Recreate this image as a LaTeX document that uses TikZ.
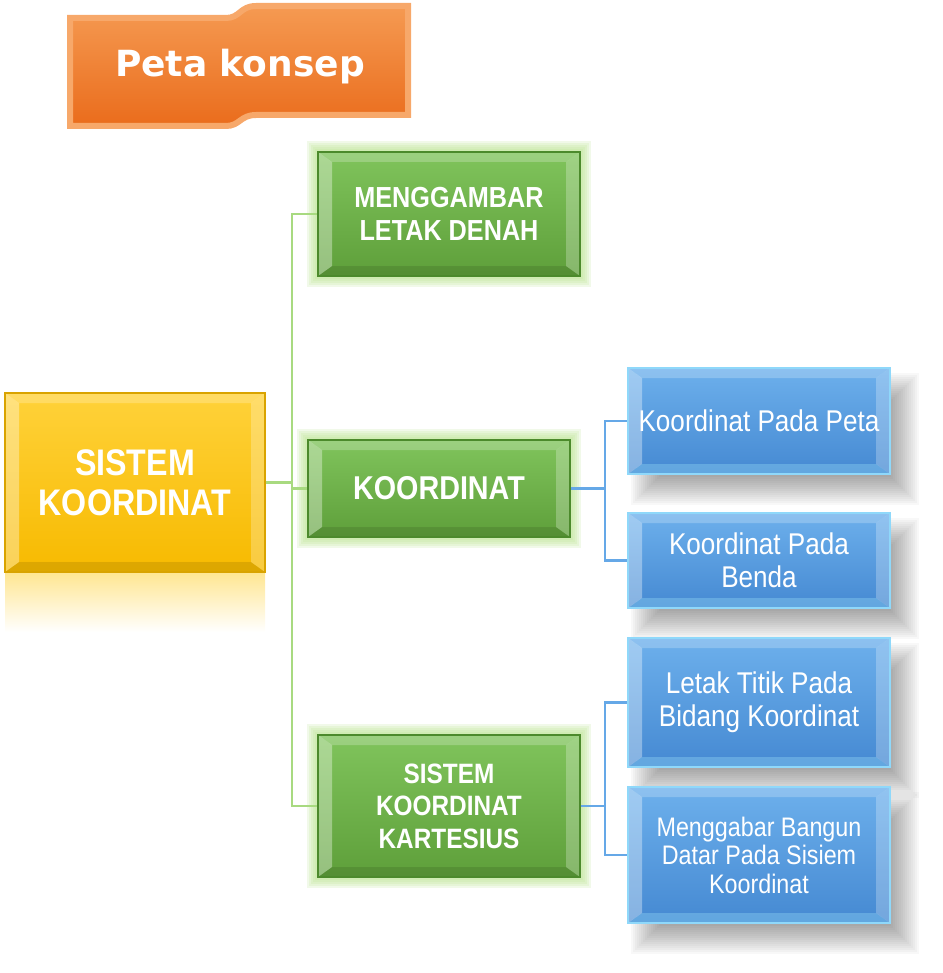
\documentclass[tikz,border=0pt]{standalone}
\usepackage{fontspec}
\setmainfont{Liberation Sans}[FakeStretch=0.87]
\newfontfamily\bannerfont{DejaVu Sans}
\usetikzlibrary{calc,backgrounds}

\definecolor{ytop}{HTML}{FFD23A}
\definecolor{ybot}{HTML}{F7BA00}
\definecolor{yline}{HTML}{D9A300}
\definecolor{gtop}{HTML}{80C45C}
\definecolor{gbot}{HTML}{5E9F3A}
\definecolor{gline}{HTML}{4C8A2C}
\definecolor{gglow}{HTML}{B9E38F}
\definecolor{btop}{HTML}{6DB0EC}
\definecolor{bbot}{HTML}{4589D2}
\definecolor{bedge}{HTML}{8FD8FA}
\definecolor{otop}{HTML}{F59A52}
\definecolor{obot}{HTML}{EA6C1C}
\definecolor{orim}{HTML}{F7A86A}

\begin{document}
\begin{tikzpicture}[x=0.5pt,y=-0.5pt,
    bevel/.style 2 args={path picture={
        \path (path picture bounding box.south west) coordinate (bvA)
              (path picture bounding box.north east) coordinate (bvB);
        \fill[white,opacity=.22] (bvA |- bvB) -- (bvB) -- ([shift={(-7pt,-5pt)}]bvB)
            -- ([shift={(7pt,-5pt)}]bvA |- bvB) -- cycle;
        \fill[#1,opacity=#2] (bvA) -- (bvA -| bvB) -- ([shift={(-7pt,5pt)}]bvA -| bvB)
            -- ([shift={(7pt,5pt)}]bvA) -- cycle;
        \fill[white,opacity=.35] (bvA) -- (bvA |- bvB) -- ([shift={(7pt,-5pt)}]bvA |- bvB)
            -- ([shift={(7pt,5pt)}]bvA) -- cycle;
        \fill[white,opacity=.25] (bvB) -- (bvA -| bvB) -- ([shift={(-7pt,5pt)}]bvA -| bvB)
            -- ([shift={(-7pt,-5pt)}]bvB) -- cycle;
    }},
    box/.style={rectangle, inner sep=2pt, align=center, text=white,
        line width=0.6pt, minimum width=131pt},
    yellowbox/.style={box, top color=ytop, bottom color=ybot, draw=yline,
        bevel={black}{.10}, minimum width=130pt,
        font=\fontsize{18.5}{20}\selectfont\bfseries},
    greenbox/.style={box, top color=gtop, bottom color=gbot, draw=gline,
        bevel={black}{.10}, font=\fontsize{14.5}{16.5}\selectfont\bfseries},
    bluebox/.style={box, top color=btop, bottom color=bbot, draw=bedge,
        bevel={cyan!40!white}{.35}, font=\fontsize{15}{16.5}\selectfont},
    gcon/.style={draw=gglow!70!gtop, line width=1.1pt},
    bcon/.style={draw=btop!80!bbot, line width=1.1pt}]

    \useasboundingbox (0,0) rectangle (942,973);

    % judul
    \shade[top color=otop, bottom color=obot, draw=orim, line width=3pt]
        (70,18) -- (226,18) .. controls (240,18) and (240,6) .. (256,6) -- (408,6)
        -- (408,115) -- (256,115) .. controls (240,115) and (240,126) .. (226,126)
        -- (70,126) -- cycle;
    \node[anchor=base, text=white, font=\bannerfont\bfseries\fontsize{18}{20}\selectfont]
        (judul) at (240,77) {Peta konsep};

    % pantulan kotak kuning
    \shade[top color=ytop!55, bottom color=white] (5,573) rectangle (265,632);

    \node[yellowbox, minimum height=89.5pt] (sk) at (135,482.5) {SISTEM\\KOORDINAT};

    \node[greenbox, minimum height=62pt] (ld) at (449,214) {MENGGAMBAR\\LETAK DENAH};
    \node[greenbox, minimum height=48.5pt, font=\fontsize{16.5}{18}\selectfont\bfseries]
        (ko) at (439,488.5) {KOORDINAT};
    \node[greenbox, minimum height=71pt, font=\fontsize{14}{16.25}\selectfont\bfseries]
        (kk) at (449,806) {SISTEM\\KOORDINAT\\KARTESIUS};

    \node[bluebox, minimum height=53pt] (pp) at (759,421) {Koordinat Pada Peta};
    \node[bluebox, minimum height=47.5pt] (kb) at (759,560.5) {Koordinat Pada\\Benda};
    \node[bluebox, minimum height=64.5pt] (tt) at (759,702.5) {Letak Titik Pada\\Bidang Koordinat};
    \node[bluebox, minimum height=68pt, font=\fontsize{13.4}{14.25}\selectfont]
        (bd) at (759,855) {Menggabar Bangun\\Datar Pada Sisiem\\Koordinat};

    % cahaya hijau dan bayangan biru
    \begin{scope}[on background layer]
        \foreach \n in {ld,ko,kk}
            \foreach \g in {1,...,5}
                \fill[gglow,opacity=.2] ([shift={(-\g pt,-\g pt)}]\n.south west)
                    rectangle ([shift={(\g pt,\g pt)}]\n.north east);
        \foreach \n in {pp,kb,tt,bd}
            \foreach \g in {-8,...,6}
                \fill[black,opacity=.028]
                    ([shift={({8pt-\g*1pt},{-9pt-\g*1pt})}]\n.south west)
                    rectangle ([shift={({8pt+\g*1pt},{-9pt+\g*1pt})}]\n.north east);
    \end{scope}

    % garis penghubung
    \coordinate (tg) at (292,0);
    \coordinate (tb) at (605,0);
    \draw[gcon] (sk.east) -- (sk.east -| tg) |- (ld.west);
    \draw[gcon] (sk.east -| tg) |- (ko.west);
    \draw[gcon] (sk.east -| tg) |- (kk.west);
    \draw[bcon] (ko.east) -- (ko.east -| tb) |- (pp.west);
    \draw[bcon] (ko.east -| tb) |- (kb.west);
    \draw[bcon] (kk.east) -- (kk.east -| tb) |- (tt.west);
    \draw[bcon] (kk.east -| tb) |- (bd.west);
\end{tikzpicture}
\end{document}
